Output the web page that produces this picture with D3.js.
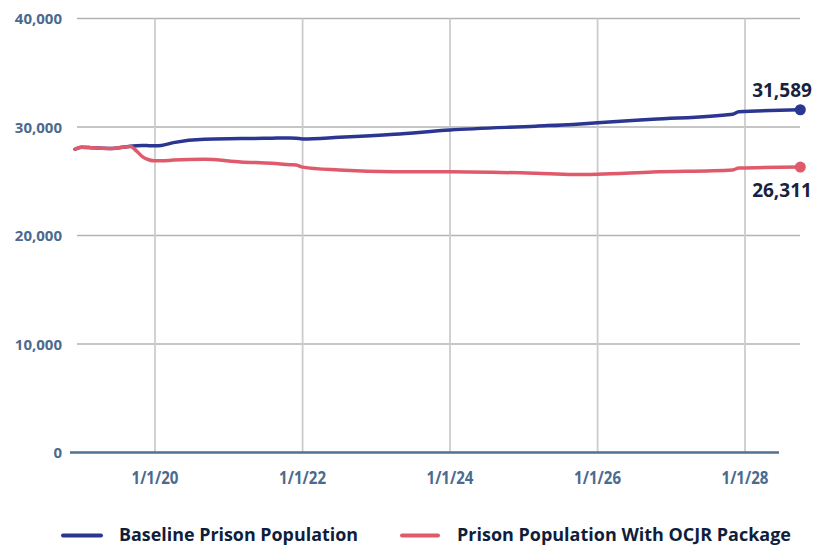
<!DOCTYPE html>
<html>
<head>
<meta charset="utf-8">
<script src="https://cdn.jsdelivr.net/npm/d3@7"></script>
<style>
  html, body { margin: 0; padding: 0; background: #fff; }
  svg { display: block; }
  text { font-family: "Open Sans", "Noto Sans", sans-serif; font-weight: 700; }
</style>
</head>
<body>
<svg id="chart" width="827" height="546"></svg>
<script>
const dates = ["2018-12","2019-01","2019-03","2019-06","2019-08","2019-09","2019-10","2019-11","2019-12",
  "2020-01","2020-02","2020-04","2020-09","2021-03","2021-08","2021-11","2021-12","2022-01","2022-07",
  "2023-04","2024-01","2025-03","2025-09","2026-01","2026-10","2027-11","2027-12","2028-10"];
const baseline = [27950,28130,28080,28020,28150,28230,28270,28290,28280,
  28270,28300,28560,28880,28930,28970,28990,28960,28900,29050,
  29330,29720,30080,30240,30400,30710,31180,31400,31589];
const ocjr = [27950,28130,28080,28020,28150,28200,27800,27250,26980,
  26880,26880,26950,27020,26780,26650,26530,26500,26300,26030,
  25870,25880,25730,25620,25650,25850,26040,26220,26311];
const yTicks = [0, 10000, 20000, 30000, 40000];
const xTicks = ["2020-01","2022-01","2024-01","2026-01","2028-01"];
const xTickLabels = ["1/1/20","1/1/22","1/1/24","1/1/26","1/1/28"];
const seriesNames = ["Baseline Prison Population", "Prison Population With OCJR Package"];
const colors = ["#2b3691", "#df5b6b"];

const parse = d3.timeParse("%Y-%m");
const svg = d3.select("#chart");

const x = d3.scaleTime().domain([parse("2020-01"), parse("2028-01")]).range([155, 745]);
const y = d3.scaleLinear().domain([0, 40000]).range([452.5, 18.5]);

svg.append("g").selectAll("line").data(yTicks.filter(d => d > 0)).join("line")
  .attr("x1", 77).attr("x2", 800)
  .attr("y1", d => y(d)).attr("y2", d => y(d))
  .attr("stroke", "#b3b3b3").attr("stroke-width", 1.5);

svg.append("g").selectAll("line").data(xTicks).join("line")
  .attr("x1", d => x(parse(d))).attr("x2", d => x(parse(d)))
  .attr("y1", y(40000)).attr("y2", y(0))
  .attr("stroke", "#cccccc").attr("stroke-width", 1.8);

svg.append("line").attr("x1", 70).attr("x2", 779)
  .attr("y1", y(0)).attr("y2", y(0))
  .attr("stroke", "#52708f").attr("stroke-width", 2.5);

svg.append("g").selectAll("text").data(yTicks).join("text")
  .attr("x", 62).attr("y", d => y(d) + 5.5)
  .attr("text-anchor", "end").attr("font-size", 15).attr("fill", "#4b6a8f")
  .text(d => d3.format(",")(d));

svg.append("g").selectAll("text").data(xTicks).join("text")
  .attr("x", d => x(parse(d))).attr("y", 484)
  .attr("text-anchor", "middle").attr("font-size", 17).attr("fill", "#4b6a8f")
  .attr("textLength", 47).attr("lengthAdjust", "spacingAndGlyphs")
  .text((d, i) => xTickLabels[i]);

const line = d3.line().x((d, i) => x(parse(dates[i]))).y(d => y(d)).curve(d3.curveMonotoneX);
[baseline, ocjr].forEach((s, k) => {
  svg.append("path").datum(s).attr("d", line)
    .attr("fill", "none").attr("stroke", colors[k]).attr("stroke-width", 3.5)
    .attr("stroke-linecap", "round").attr("stroke-linejoin", "round");
});

const last = dates.length - 1;
[baseline, ocjr].forEach((s, k) => {
  svg.append("circle").attr("cx", x(parse(dates[last]))).attr("cy", y(s[last]))
    .attr("r", 5.5).attr("fill", colors[k]);
});
svg.append("text").attr("x", 782).attr("y", y(baseline[last]) - 13)
  .attr("text-anchor", "middle").attr("font-size", 19).attr("fill", "#17223f")
  .text(d3.format(",")(baseline[last]));
svg.append("text").attr("x", 782).attr("y", y(ocjr[last]) + 30)
  .attr("text-anchor", "middle").attr("font-size", 19).attr("fill", "#17223f")
  .text(d3.format(",")(ocjr[last]));

const legX = [[63, 101, 119, 239], [402, 438, 457, 334]];
seriesNames.forEach((name, k) => {
  svg.append("line").attr("x1", legX[k][0]).attr("x2", legX[k][1])
    .attr("y1", 535.5).attr("y2", 535.5)
    .attr("stroke", colors[k]).attr("stroke-width", 4).attr("stroke-linecap", "round");
  svg.append("text").attr("x", legX[k][2]).attr("y", 541)
    .attr("font-size", 18).attr("fill", "#0f1e3c")
    .attr("textLength", legX[k][3]).attr("lengthAdjust", "spacingAndGlyphs")
    .text(name);
});
</script>
</body>
</html>
